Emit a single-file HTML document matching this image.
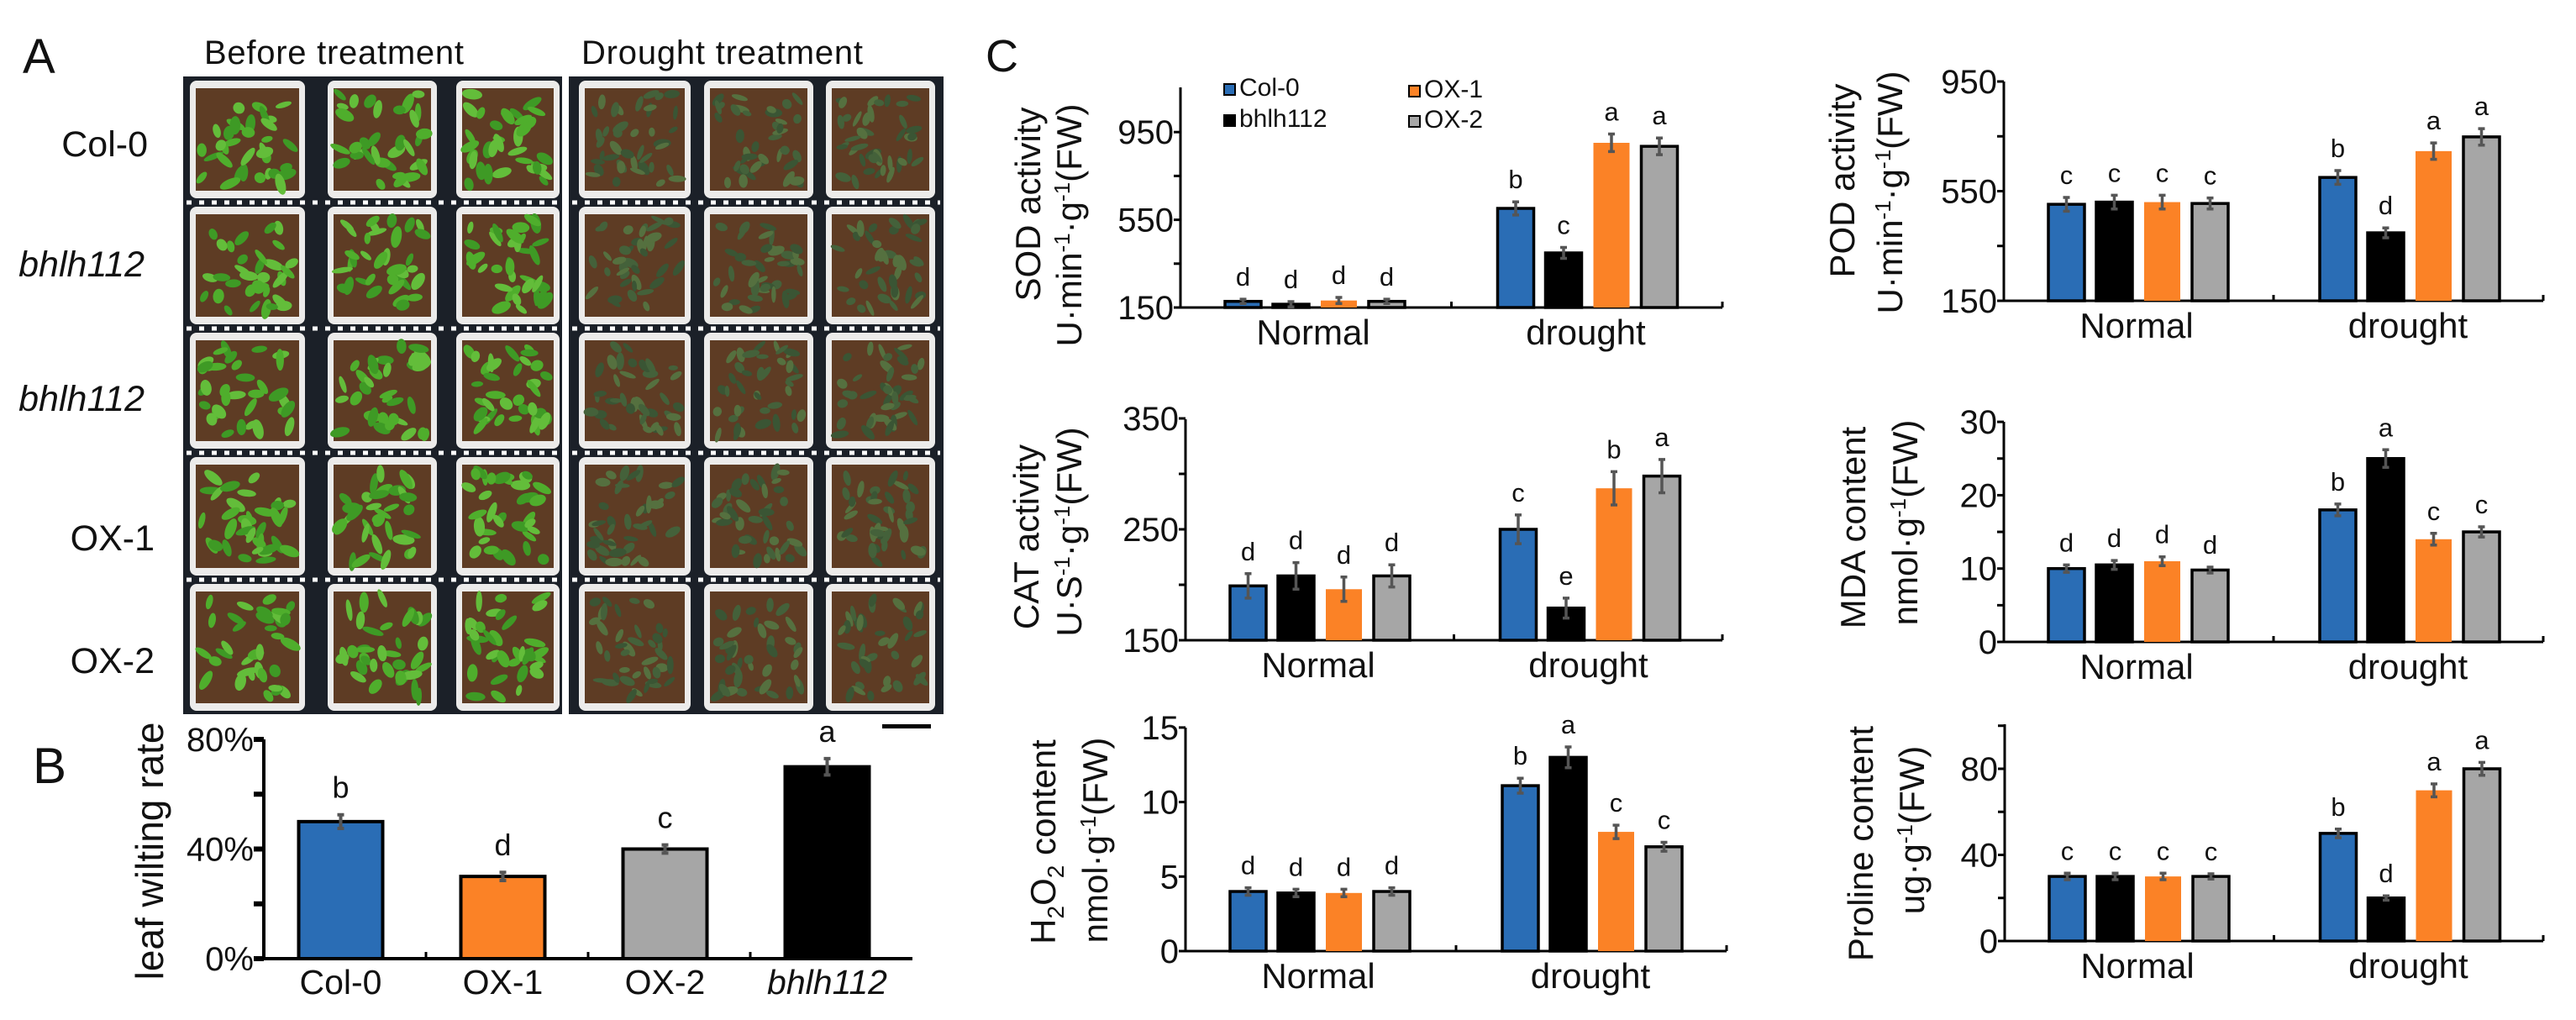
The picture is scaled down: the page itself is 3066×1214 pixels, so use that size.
<!DOCTYPE html>
<html><head><meta charset="utf-8">
<style>
html,body{margin:0;padding:0;background:#fff;}
svg{display:block;font-family:"Liberation Sans",Arial,sans-serif;}
</style></head>
<body>
<svg id="fig" xmlns="http://www.w3.org/2000/svg" width="3066" height="1214" viewBox="0 0 3066 1214">
  <rect x="0" y="0" width="3066" height="1214" fill="#fff"/>
  <g id="panelA"></g>
  <g id="charts"></g>
  <text x="27" y="87" font-size="58" fill="#111">A</text>
  <text x="39" y="932" font-size="60" fill="#111">B</text>
  <text x="1173" y="85" font-size="54" fill="#111">C</text>
  <text x="243" y="76" font-size="40" textLength="309" fill="#111">Before treatment</text>
  <text x="692" y="76" font-size="40" textLength="335" fill="#111">Drought treatment</text>
  <text x="176" y="186" font-size="43" text-anchor="end" fill="#111">Col-0</text>
  <text x="172" y="329" font-size="43" font-style="italic" text-anchor="end" fill="#111">bhlh112</text>
  <text x="172" y="489" font-size="43" font-style="italic" text-anchor="end" fill="#111">bhlh112</text>
  <text x="184" y="655" font-size="43" text-anchor="end" fill="#111">OX-1</text>
  <text x="184" y="801" font-size="43" text-anchor="end" fill="#111">OX-2</text>
  <rect x="1050" y="862" width="58" height="5" fill="#000"/>
</svg>
<script>
// ---------- Panel B data ----------
const bCategories = ['Col-0','OX-1','OX-2','bhlh112'];
const bValues = [50,30,40,70];
const bErrors = [2.5,1.5,1.5,3];
const bLetters = ['b','d','c','a'];
const bTicks = [0,40,80];
const bTickLabels = ['0%','40%','80%'];
const bMinorTicks = [20,60];

// ---------- Panel C data ----------
const groups = ['Normal','drought'];
const series = ['Col-0','bhlh112','OX-1','OX-2'];
const sodNormal = [178,165,182,178];
const sodDrought = [602,399,901,885];
const sodErrNormal = [10,12,14,10];
const sodErrDrought = [30,25,40,38];
const sodLetNormal = ['d','d','d','d'];
const sodLetDrought = ['b','c','a','a'];
const sodTicks = [150,550,950];
const sodMinor = [350,750];

const catNormal = [199,208,196,208];
const catDrought = [250,179,287,298];
const catErrNormal = [11,12,11,10];
const catErrDrought = [13,9,15,15];
const catLetNormal = ['d','d','d','d'];
const catLetDrought = ['c','e','b','a'];
const catTicks = [150,250,350];
const catMinor = [200,300];

const h2o2Normal = [4,3.9,3.9,4];
const h2o2Drought = [11.1,13,8,7];
const h2o2ErrNormal = [0.25,0.25,0.25,0.25];
const h2o2ErrDrought = [0.5,0.7,0.45,0.3];
const h2o2LetNormal = ['d','d','d','d'];
const h2o2LetDrought = ['b','a','c','c'];
const h2o2Ticks = [0,5,10,15];
const h2o2Minor = [];

const podNormal = [502,510,510,505];
const podDrought = [600,398,696,748];
const podErrNormal = [25,25,25,20];
const podErrDrought = [25,18,30,30];
const podLetNormal = ['c','c','c','c'];
const podLetDrought = ['b','d','a','a'];
const podTicks = [150,550,950];
const podMinor = [350,750];

const mdaNormal = [10,10.5,11,9.8];
const mdaDrought = [18,25,14,15];
const mdaErrNormal = [0.5,0.6,0.6,0.4];
const mdaErrDrought = [0.8,1.2,0.8,0.7];
const mdaLetNormal = ['d','d','d','d'];
const mdaLetDrought = ['b','a','c','c'];
const mdaTicks = [0,10,20,30];
const mdaMinor = [5,15,25];

const proNormal = [30,30,30,30];
const proDrought = [50,20,70,80];
const proErrNormal = [1.5,1.5,1.5,1.2];
const proErrDrought = [2,1,3,3];
const proLetNormal = ['c','c','c','c'];
const proLetDrought = ['b','d','a','a'];
const proTicks = [0,40,80];
const proMinor = [20,60,100];

const colors = ['#2a6db5','#000000','#fb8226','#a6a6a6'];
const NS = 'http://www.w3.org/2000/svg';
function mk(tag, attrs, parent){
  const e = document.createElementNS(NS, tag);
  for (const k in attrs) e.setAttribute(k, attrs[k]);
  parent.appendChild(e);
  return e;
}

// ---------- Panel A photo (decorative) ----------
(function(){
  const g = document.getElementById('panelA');
  let seed = 7;
  function rnd(){ seed = (seed*16807)%2147483647; return (seed-1)/2147483646; }
  const halves = [{x:218,w:451,cols:[[226,363],[390,520],[543,666]],leaf:['#4fae2c','#3e9a25','#63bd3a'],name:'before',n:34,sz:1.1},
                  {x:677,w:446,cols:[[689,822],[838,968],[983,1113]],leaf:['#44613a','#55703f','#3a5534'],name:'drought',n:40,sz:0.9}];
  const rows = [[96,236],[246,386],[396,534],[544,685],[695,846]];
  halves.forEach(h=>{
    const bg = mk('rect',{x:h.x,y:91,width:h.w,height:759,fill:'#1b2028'},g);
    
    
    rows.forEach((r,ri)=>{
      h.cols.forEach((c,ci)=>{
        const pot = mk('rect',{x:c[0],y:r[0],width:c[1]-c[0],height:r[1]-r[0],rx:8,fill:'#ecebea'},g);
        
        
        const soil = mk('rect',{x:c[0]+7,y:r[0]+9,width:c[1]-c[0]-14,height:r[1]-r[0]-18,fill:'#5e3c24'},g);
        
        
        for(let k=0;k<h.n;k++){
          const cx = c[0]+14+rnd()*(c[1]-c[0]-28);
          const cy = r[0]+16+rnd()*(r[1]-r[0]-32);
          const leaf = mk('ellipse',{cx:cx,cy:cy,rx:(6+rnd()*6)*h.sz,ry:(3+rnd()*3)*h.sz,transform:'rotate('+Math.floor(rnd()*180)+' '+cx+' '+cy+')',fill:h.leaf[k%3]},g);
          
          
        }
      });
    });
    [241,391,539,690].forEach(y=>{
      const dl = mk('line',{x1:h.x+4,y1:y,x2:h.x+h.w-4,y2:y,stroke:'#fff','stroke-width':5,'stroke-dasharray':'6 9'},g);
      
      
    });
  });
})();

const root = document.getElementById('charts');

// ---------- Panel B chart ----------
(function(){
  const g = mk('g',{},root);
  
  
  const x0=314, x1=1086, base=1141, ppu=130.5/40;
  const y = v => base - v*ppu;
  const slot = (x1-x0)/bCategories.length;
  const xc = i => x0 + slot*(i+0.5) - 5;
  const ax = mk('line',{x1:x0,y1:y(80),x2:x0,y2:base,stroke:'#000','stroke-width':4},g);
  
  
  const bx = mk('line',{x1:x0,y1:base,x2:x1,y2:base,stroke:'#000','stroke-width':4},g);
  
  
  bTicks.concat(bMinorTicks).forEach(t=>{
    const tk = mk('line',{x1:x0-12,y1:y(t),x2:x0,y2:y(t),stroke:'#000','stroke-width':6},g);
    
    
  });
  bTicks.forEach((t,i)=>{
    const tl = mk('text',{x:x0-12,y:y(t)+14,'font-size':40,'text-anchor':'end',fill:'#111'},g);
    tl.textContent = bTickLabels[i];
    
    
  });
  for(let i=1;i<bCategories.length;i++){
    const m = mk('line',{x1:x0+slot*i,y1:base,x2:x0+slot*i,y2:base-8,stroke:'#000','stroke-width':3},g);
    
    
  }
  const bcol = ['#2a6db5','#fb8226','#a6a6a6','#000000'];
  bCategories.forEach((c,i)=>{
    const top = y(bValues[i]);
    const r = mk('rect',{x:xc(i)-50,y:top,width:100,height:base-top,fill:bcol[i],stroke:'#000','stroke-width':4},g);
    
    
    const e = mk('path',{d:'M'+(xc(i))+' '+y(bValues[i]+bErrors[i])+'V'+y(bValues[i]-bErrors[i])+'M'+(xc(i)-4)+' '+y(bValues[i]+bErrors[i])+'h8M'+(xc(i)-4)+' '+y(bValues[i]-bErrors[i])+'h8',stroke:'#555','stroke-width':4,fill:'none'},g);
    
    
    const l = mk('text',{x:xc(i),y:y(bValues[i]+bErrors[i])-20,'font-size':36,'text-anchor':'middle',fill:'#111'},g);
    l.textContent = bLetters[i];
    
    
    const cl = mk('text',{x:xc(i),y:1183,'font-size':41,'text-anchor':'middle',fill:'#111','font-style':c==='bhlh112'?'italic':'normal'},g);
    cl.textContent = c;
    
    
  });
  const t = mk('text',{x:0,y:0,'font-size':46,'text-anchor':'middle',fill:'#111',transform:'translate(194 1013) rotate(-90)'},g);
  t.textContent = 'leaf wilting rate';
  
  
})();

// ---------- Panel C charts ----------
function drawC(cfg){
  const g = mk('g',{},root);
  
  
  const y = v => cfg.base - (v-cfg.min)*cfg.ppu;
  const mid = (cfg.x0+cfg.x1)/2;
  const centers = [cfg.x0+160, mid+162];
  const ax = mk('line',{x1:cfg.x0,y1:cfg.top,x2:cfg.x0,y2:cfg.base,stroke:'#000','stroke-width':3},g);
  
  
  const bx = mk('line',{x1:cfg.x0,y1:cfg.base,x2:cfg.x1,y2:cfg.base,stroke:'#000','stroke-width':3},g);
  
  
  [mid,cfg.x1].forEach(xx=>{
    const m = mk('line',{x1:xx,y1:cfg.base,x2:xx,y2:cfg.base-7,stroke:'#000','stroke-width':3},g);
    
    
  });
  cfg.ticks.concat(cfg.minor).forEach(t=>{
    const tk = mk('line',{x1:cfg.x0-8,y1:y(t),x2:cfg.x0,y2:y(t),stroke:'#000','stroke-width':3},g);
    
    
  });
  cfg.ticks.forEach(t=>{
    const tl = mk('text',{x:cfg.x0-8,y:y(t)+14,'font-size':40,'text-anchor':'end',fill:'#111'},g);
    tl.textContent = String(t);
    
    
  });
  const offs = [-85.5,-28.5,28.5,85.5];
  [[cfg.n,cfg.en,cfg.ln],[cfg.d,cfg.ed,cfg.ld]].forEach((set,gi)=>{
    series.forEach((s,i)=>{
      const cx = centers[gi]+offs[i];
      const v = set[0][i], e = set[1][i];
      const r = mk('rect',{x:cx-21.5,y:y(v),width:43,height:cfg.base-y(v),fill:colors[i],stroke:i===2?'none':'#000','stroke-width':3.5},g);
      
      
      const eb = mk('path',{d:'M'+cx+' '+y(v+e)+'V'+y(v-e)+'M'+(cx-4)+' '+y(v+e)+'h8M'+(cx-4)+' '+y(v-e)+'h8',stroke:'#555','stroke-width':3.5,fill:'none'},g);
      
      
      const lt = mk('text',{x:cx,y:y(v+e)-16,'font-size':31,'text-anchor':'middle',fill:'#111'},g);
      lt.textContent = set[2][i];
      
      
    });
    const gl = mk('text',{x:centers[gi]-2,y:cfg.base+44,'font-size':42,'text-anchor':'middle',fill:'#111'},g);
    gl.textContent = groups[gi];
    
    
  });
  const t1 = mk('text',{x:0,y:0,'font-size':42,'text-anchor':'middle',fill:'#111',transform:'translate('+cfg.t1[0]+' '+cfg.t1[1]+') rotate(-90)'},g);
  t1.innerHTML = cfg.title1;
  
  
  const t2 = mk('text',{x:0,y:0,'font-size':42,'text-anchor':'middle',fill:'#111',transform:'translate('+cfg.t2[0]+' '+cfg.t2[1]+') rotate(-90)'},g);
  t2.innerHTML = cfg.title2;
  
  
}
const sup = (s, after) => '<tspan dy="-14" font-size="26">'+s+'</tspan><tspan dy="14">'+after+'</tspan>';
const unitMin = 'U·min'+sup('-1','·g')+sup('-1','(FW)');
const unitNmol = 'nmol·g'+sup('-1','(FW)');

drawC({name:'sod',x0:1405,x1:2050,base:366,min:150,ppu:52.2/200,top:104,ticks:sodTicks,minor:sodMinor,
  n:sodNormal,d:sodDrought,en:sodErrNormal,ed:sodErrDrought,ln:sodLetNormal,ld:sodLetDrought,
  title1:'SOD activity',title2:unitMin,t1:[1238,243],t2:[1287,268]});
drawC({name:'cat',x0:1411,x1:2050,base:762,min:150,ppu:1.32,top:499,ticks:catTicks,minor:catMinor,
  n:catNormal,d:catDrought,en:catErrNormal,ed:catErrDrought,ln:catLetNormal,ld:catLetDrought,
  title1:'CAT activity',title2:'U·S'+sup('-1','·g')+sup('-1','(FW)'),t1:[1236,639],t2:[1287,633]});
drawC({name:'h2o2',x0:1411,x1:2055,base:1132,min:0,ppu:17.74,top:866,ticks:h2o2Ticks,minor:h2o2Minor,
  n:h2o2Normal,d:h2o2Drought,en:h2o2ErrNormal,ed:h2o2ErrDrought,ln:h2o2LetNormal,ld:h2o2LetDrought,
  title1:'H<tspan dy="10" font-size="28">2</tspan><tspan dy="-10">O</tspan><tspan dy="10" font-size="28">2</tspan><tspan dy="-10"> content</tspan>',title2:unitNmol,t1:[1256,1002],t2:[1318,1000]});
drawC({name:'pod',x0:2385,x1:3027,base:358,min:150,ppu:130.5/400,top:97,ticks:podTicks,minor:podMinor,
  n:podNormal,d:podDrought,en:podErrNormal,ed:podErrDrought,ln:podLetNormal,ld:podLetDrought,
  title1:'POD activity',title2:unitMin,t1:[2207,215],t2:[2264,229]});
drawC({name:'mda',x0:2385,x1:3027,base:764,min:0,ppu:8.73,top:502,ticks:mdaTicks,minor:mdaMinor,
  n:mdaNormal,d:mdaDrought,en:mdaErrNormal,ed:mdaErrDrought,ln:mdaLetNormal,ld:mdaLetDrought,
  title1:'MDA content',title2:unitNmol,t1:[2220,628],t2:[2282,622]});
drawC({name:'proline',x0:2386,x1:3027,base:1120,min:0,ppu:102.5/40,top:862,ticks:proTicks,minor:proMinor,
  n:proNormal,d:proDrought,en:proErrNormal,ed:proErrDrought,ln:proLetNormal,ld:proLetDrought,
  title1:'Proline content',title2:'ug·g'+sup('-1','(FW)'),t1:[2229,1004],t2:[2290,988]});

// ---------- Legend ----------
(function(){
  const g = mk('g',{},root);
  
  
  const pos = [[1457,100],[1457,137],[1677,102],[1677,138]];
  series.forEach((s,i)=>{
    const sq = mk('rect',{x:pos[i][0],y:pos[i][1],width:13,height:13,fill:colors[i],stroke:'#000','stroke-width':2},g);
    
    
    const tx = mk('text',{x:pos[i][0]+18,y:pos[i][1]+14,'font-size':30,fill:'#111'},g);
    tx.textContent = s;
    
    
  });
})();
</script>
</body></html>
